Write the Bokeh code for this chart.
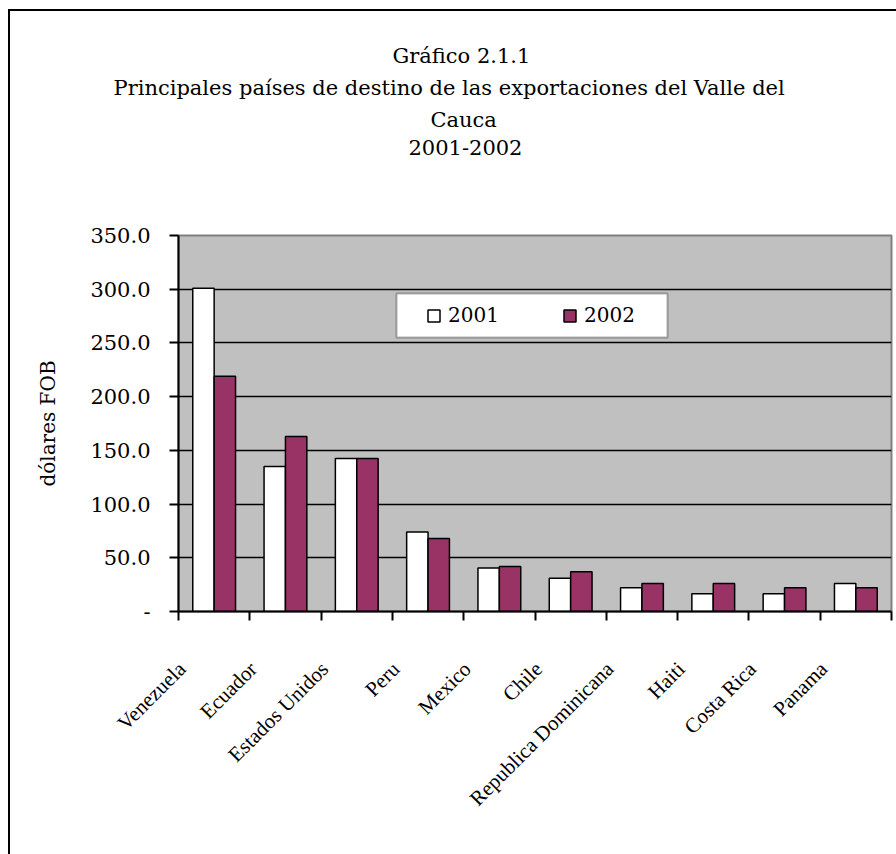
import math
from bokeh.plotting import figure
from bokeh.layouts import column
from bokeh.models import (ColumnDataSource, Range1d, LinearAxis, FixedTicker, Legend,
                          LegendItem, Title, BoxAnnotation, CustomJSTickFormatter)
from bokeh.transform import dodge
from bokeh.embed import file_html
from bokeh.resources import INLINE

# ---- data ----
countries = ["Venezuela", "Ecuador", "Estados Unidos", "Peru", "Mexico", "Chile",
             "Republica Dominicana", "Haiti", "Costa Rica", "Panama"]
v2001 = [301.0, 135.0, 142.5, 74.0, 40.5, 31.0, 22.0, 16.5, 16.5, 26.0]
v2002 = [219.0, 163.0, 142.5, 68.0, 42.0, 37.0, 26.0, 26.0, 22.0, 22.0]
series = ["2001", "2002"]
y_ticks = [0, 50, 100, 150, 200, 250, 300, 350]
title_lines = ["Gráfico 2.1.1",
               "Principales países de destino de las exportaciones del Valle del",
               "Cauca",
               "2001-2002"]
y_label = "dólares FOB"

n = len(countries)
source = ColumnDataSource(dict(
    x=[i + 0.5 for i in range(n)],
    country=countries,
    v2001=v2001,
    v2002=v2002,
))

SERIF = "DejaVu Serif"

# page origin of the figure canvas (inside the border)
OX, OY = 10, 11

p = figure(width=896 - OX, height=854 - OY, x_range=Range1d(0, n), y_range=Range1d(0, 350),
           output_backend="svg", toolbar_location=None, x_axis_type=None, title=None,
           min_border_left=178 - OX, min_border_right=5, min_border_top=235 - OY,
           min_border_bottom=243)
p.background_fill_color = "#C0C0C0"
p.border_fill_color = "white"
p.outline_line_color = "#808080"
p.outline_line_width = 2

# grid
p.xgrid.visible = False
p.ygrid.ticker = FixedTicker(ticks=y_ticks)
p.ygrid.grid_line_color = "black"
p.ygrid.grid_line_width = 1.5

# bars
r1 = p.vbar(x=dodge("x", -0.15, range=p.x_range), top="v2001", width=0.3, source=source,
            fill_color="white", line_color="black", line_width=1.5)
r2 = p.vbar(x=dodge("x", 0.15, range=p.x_range), top="v2002", width=0.3, source=source,
            fill_color="#993366", line_color="black", line_width=1.5)

# y axis
yax = p.yaxis[0]
yax.ticker = FixedTicker(ticks=y_ticks)
yax.formatter = CustomJSTickFormatter(code="return tick == 0 ? '-' : tick.toFixed(1);")
yax.major_label_text_font = SERIF
yax.major_label_text_font_size = "21px"
yax.major_label_text_color = "black"
yax.major_tick_in = 0
yax.major_tick_out = 9
yax.major_tick_line_width = 2
yax.major_label_standoff = 19
yax.minor_tick_line_color = None
yax.axis_line_width = 2
yax.axis_line_color = "black"
yax.axis_label = y_label
yax.axis_label_text_font = SERIF
yax.axis_label_text_font_size = "20px"
yax.axis_label_text_font_style = "normal"
yax.axis_label_text_color = "black"
yax.axis_label_standoff = 27

# x axis: minor ticks at category boundaries, labels near category centres
xax = LinearAxis(
    ticker=FixedTicker(ticks=[i + 0.05 for i in range(n)], minor_ticks=list(range(n + 1))),
    formatter=CustomJSTickFormatter(args=dict(names=countries),
                                    code="return names[Math.floor(tick)];"),
)
xax.major_tick_line_color = None
xax.major_tick_in = 0
xax.major_tick_out = 0
xax.minor_tick_in = 0
xax.minor_tick_out = 9
xax.minor_tick_line_width = 2
xax.minor_tick_line_color = "black"
xax.axis_line_width = 2
xax.axis_line_color = "black"
xax.major_label_orientation = math.pi / 4
xax.major_label_standoff = 45
xax.major_label_text_font = "Liberation Serif"
xax.major_label_text_font_size = "21px"
xax.major_label_text_color = "black"
p.add_layout(xax, "below")

# legend frame (canvas pixels) and legend
p.add_layout(BoxAnnotation(left=396 - OX, right=667 - OX, top=293 - OY, bottom=337 - OY,
                           left_units="canvas", right_units="canvas",
                           top_units="canvas", bottom_units="canvas",
                           fill_color="white", fill_alpha=1,
                           line_color="black", line_width=2, level="annotation"))
legend = Legend(items=[LegendItem(label=series[0], renderers=[r1]),
                       LegendItem(label=series[1], renderers=[r2])],
                orientation="horizontal", location=(248, 284))
legend.label_text_font = SERIF
legend.label_text_font_size = "20px"
legend.label_text_color = "black"
legend.glyph_width = 15
legend.glyph_height = 15
legend.label_standoff = 7
legend.label_width = 80
legend.spacing = 34
legend.padding = 10
legend.border_line_color = None
legend.background_fill_alpha = 0
p.add_layout(legend, "center")

# title lines: nearest to the plot first, after a spacer; left offsets centre each line
title_offsets = [214, -65, 252, 230]
p.add_layout(Title(text=" ", standoff=51, text_font=SERIF, text_font_size="21px"), "above")
for txt, off in reversed(list(zip(title_lines, title_offsets))):
    p.add_layout(Title(text=txt, align="left", offset=off, standoff=6,
                       text_font=SERIF, text_font_size="21px",
                       text_font_style="normal", text_color="black"), "above")

layout = column(p, styles={"border-left": "2px solid black", "border-top": "2px solid black",
                           "margin-left": "8px", "margin-top": "9px"})

open("out.html", "w").write(file_html(layout, INLINE))
